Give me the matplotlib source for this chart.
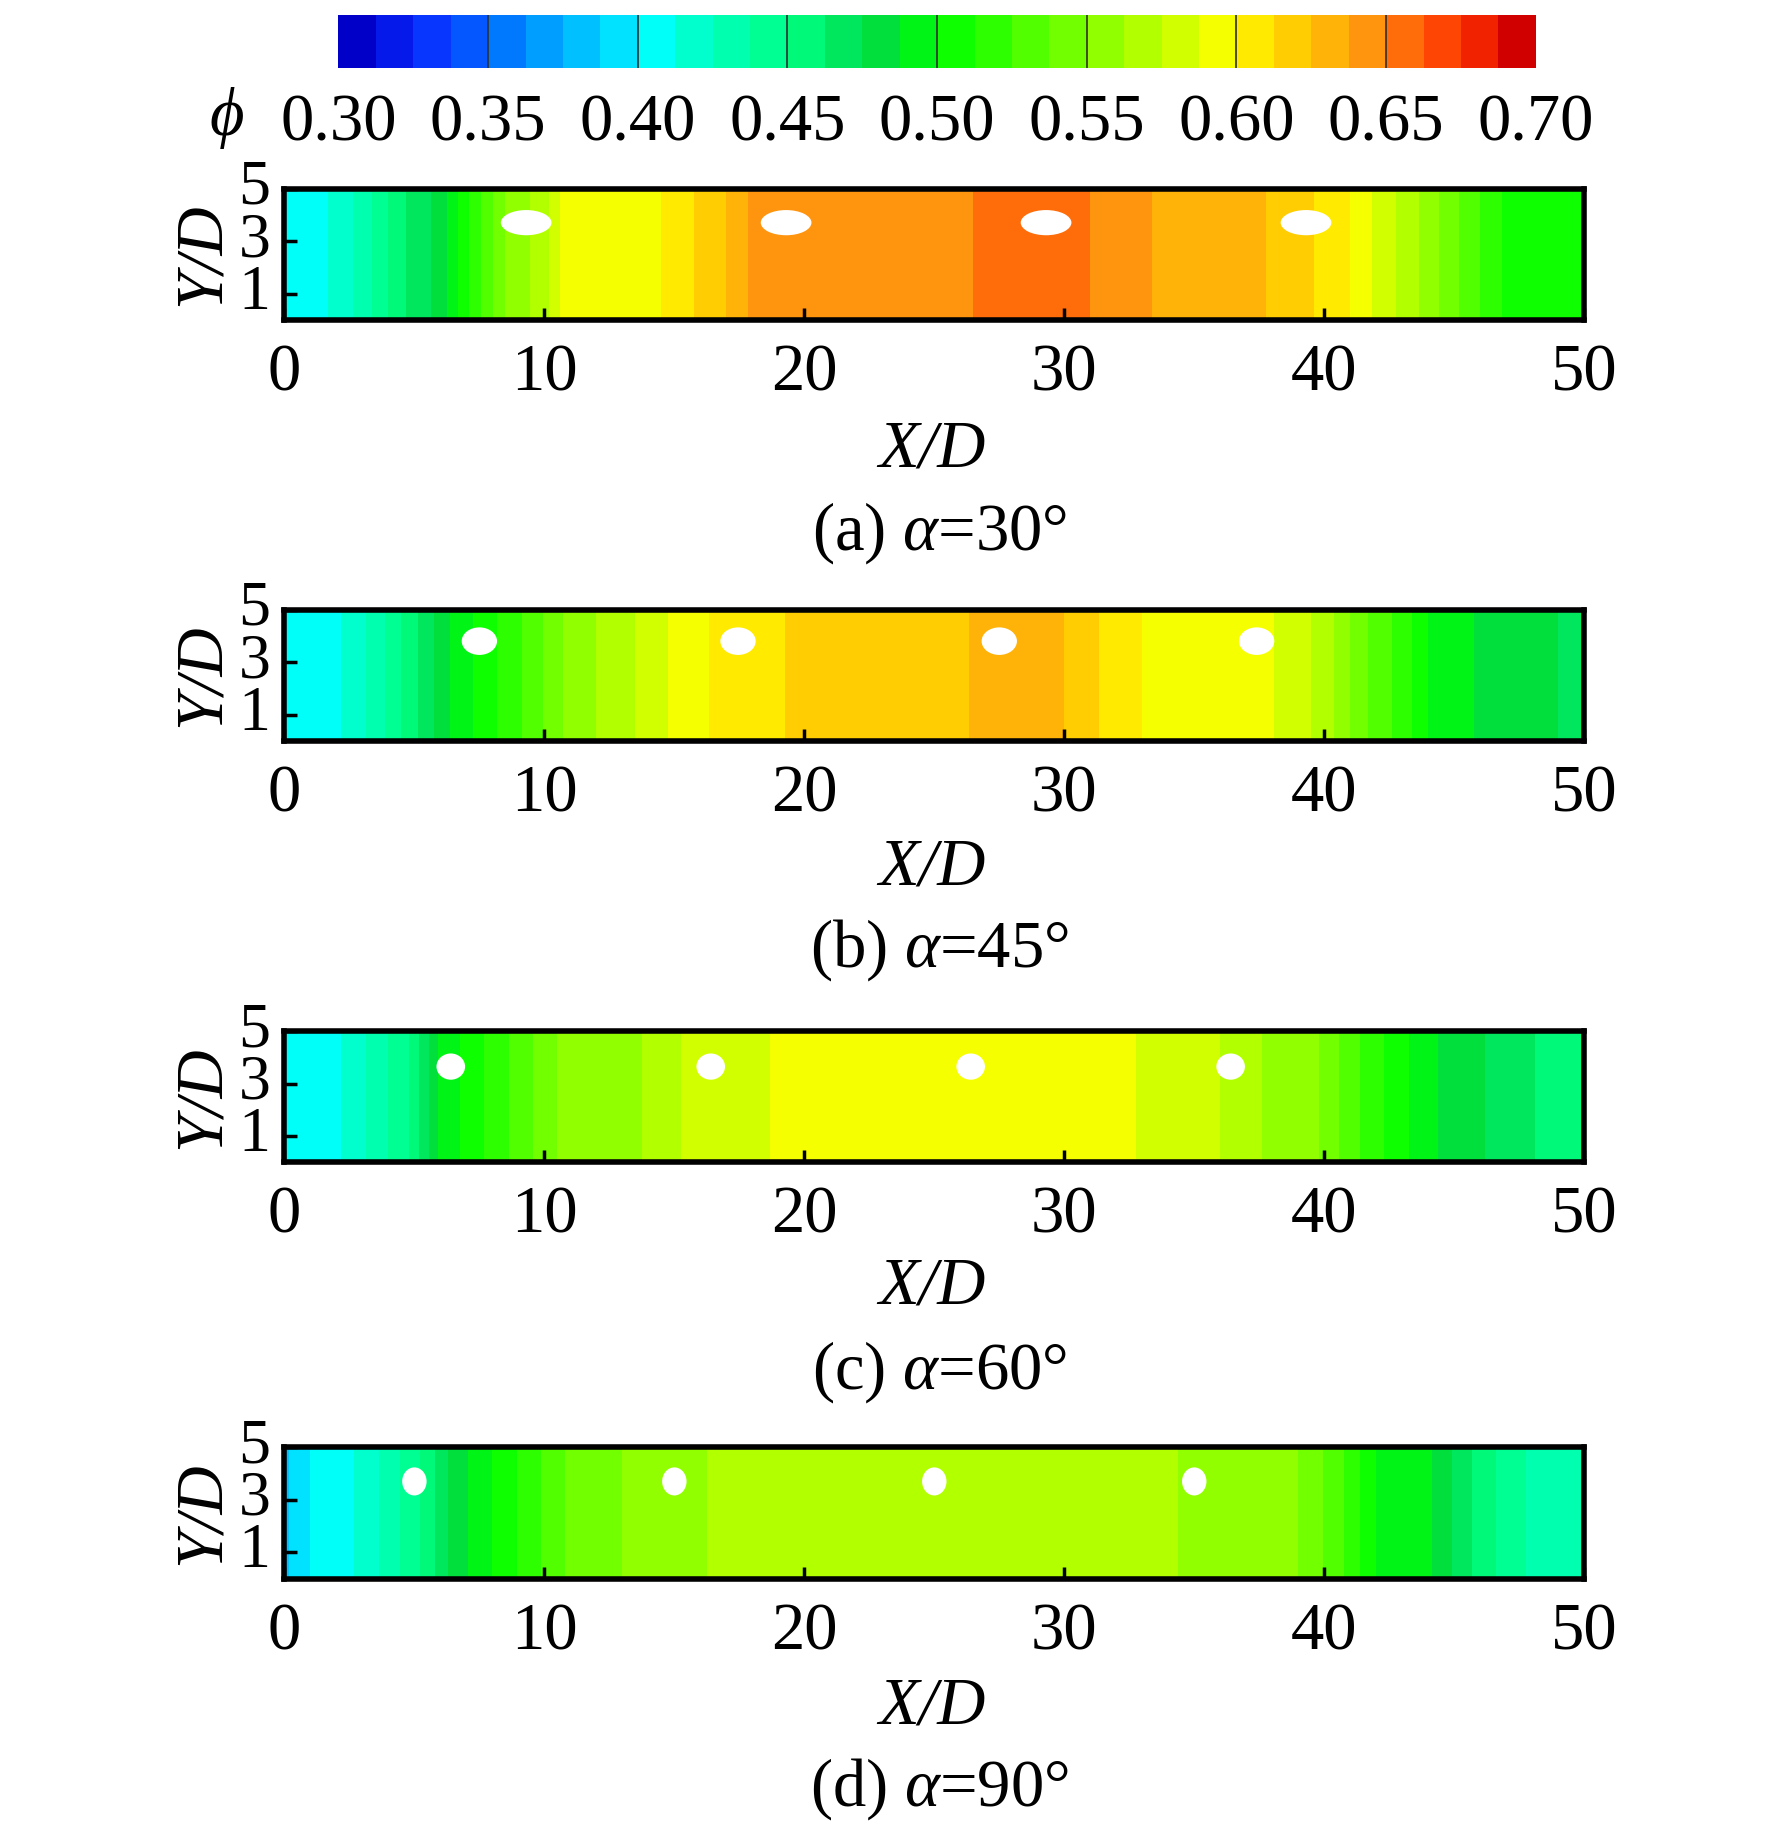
import numpy as np
import matplotlib
matplotlib.use("Agg")
import matplotlib.pyplot as plt
from matplotlib.colors import LinearSegmentedColormap, BoundaryNorm
from matplotlib.patches import Ellipse
import matplotlib.cm as cm

plt.rcParams['font.family'] = ['Liberation Serif', 'DejaVu Serif']
plt.rcParams['mathtext.fontset'] = 'custom'
plt.rcParams['mathtext.rm'] = 'Liberation Serif'
plt.rcParams['mathtext.it'] = 'Liberation Serif:italic'

# ---------------- data ----------------
captions = ["(a) $\\alpha$=30°", "(b) $\\alpha$=45°", "(c) $\\alpha$=60°", "(d) $\\alpha$=90°"]

x_a = [0, 1.5, 3, 4.5, 6, 7, 8.5, 10, 11, 14.5, 15.5, 17, 18, 22, 26, 27, 30.5, 31.5, 34, 37, 38.5, 40, 41, 42, 43.5, 45, 47, 50]
phi_a = [0.40, 0.41, 0.43, 0.46, 0.48, 0.51, 0.55, 0.57, 0.60, 0.60, 0.61, 0.625, 0.64, 0.645, 0.645, 0.655, 0.655, 0.645, 0.635, 0.63, 0.62, 0.61, 0.60, 0.585, 0.565, 0.54, 0.51, 0.50]

x_b = [0, 2, 3.5, 5, 6.5, 8, 9.5, 11, 13, 15, 17, 20, 25, 27, 29.5, 31, 33, 36, 38.5, 40, 41.5, 43, 44.5, 47, 50]
phi_b = [0.40, 0.41, 0.43, 0.46, 0.49, 0.51, 0.53, 0.555, 0.57, 0.59, 0.605, 0.615, 0.615, 0.63, 0.63, 0.615, 0.60, 0.60, 0.585, 0.57, 0.54, 0.52, 0.49, 0.485, 0.47]

x_c = [0, 2, 3.5, 4.8, 6, 7.5, 9, 10.5, 13, 14.5, 16, 18.5, 19.5, 31.5, 33, 35.5, 37, 39.5, 41, 42.5, 44, 45.5, 47.5, 50]
phi_c = [0.40, 0.41, 0.43, 0.45, 0.49, 0.51, 0.53, 0.55, 0.555, 0.57, 0.58, 0.585, 0.60, 0.60, 0.585, 0.58, 0.565, 0.555, 0.53, 0.51, 0.49, 0.48, 0.465, 0.455]

x_d = [0, 1, 2.5, 4, 5.5, 6.5, 8, 9.5, 11, 13, 15.5, 16.5, 34, 35.5, 39, 40.5, 42, 44, 45.5, 47, 48.5, 50]
phi_d = [0.385, 0.40, 0.41, 0.43, 0.455, 0.48, 0.50, 0.52, 0.54, 0.55, 0.555, 0.565, 0.565, 0.555, 0.55, 0.53, 0.50, 0.49, 0.465, 0.445, 0.43, 0.425]

holes_x = [[9.3, 19.3, 29.3, 39.3],
           [7.5, 17.45, 27.5, 37.4],
           [6.4, 16.4, 26.4, 36.4],
           [5.0, 15.0, 25.0, 35.0]]
holes_y = [3.7, 3.8, 3.65, 3.7]
hole_w = [1.95, 1.36, 1.1, 0.94]
hole_h = [0.96, 1.05, 1.0, 1.07]

cbar_ticks = [0.30, 0.35, 0.40, 0.45, 0.50, 0.55, 0.60, 0.65, 0.70]
xticks = [0, 10, 20, 30, 40, 50]
yticks = [1, 3, 5]

profiles = [(x_a, phi_a), (x_b, phi_b), (x_c, phi_c), (x_d, phi_d)]

# ---------------- style ----------------
cmap = LinearSegmentedColormap.from_list("tec", [
    (0.0, "#0000c8"), (0.05, "#0a28ff"), (0.125, "#0078ff"), (0.2, "#00c8ff"),
    (0.25, "#00ffff"), (0.3, "#00ffc0"), (0.375, "#00ff80"), (0.44, "#00d848"),
    (0.5, "#00ff00"), (0.625, "#80ff00"), (0.75, "#ffff00"), (0.8, "#ffd000"),
    (0.875, "#ff9010"), (0.95, "#ff3000"), (1.0, "#d00000")])
levels = np.linspace(0.30, 0.70, 33)
norm = BoundaryNorm(levels, cmap.N)

FS = 48
fig = plt.figure(figsize=(17.72, 18.43), dpi=100)

bottoms = [0.8265, 0.598, 0.3693, 0.1435]
xlab_y = [0.7557, 0.5293, 0.3017, 0.074]
cap_y = [0.711, 0.4847, 0.2557, 0.0293]
L, W, H = 0.1605, 0.7335, 0.0712

for i, (xs, ps) in enumerate(profiles):
    ax = fig.add_axes([L, bottoms[i], W, H])
    xs = np.asarray(xs)
    Y = np.array([0.0, 5.0])
    Z = np.tile(np.asarray(ps), (2, 1))
    ax.contourf(xs, Y, Z, levels=levels, cmap=cmap, norm=norm, extend='both')
    for hx in holes_x[i]:
        ax.add_patch(Ellipse((hx, holes_y[i]), hole_w[i], hole_h[i],
                             facecolor='white', edgecolor='none', zorder=3))
    ax.set_xlim(0, 50)
    ax.set_ylim(0, 5)
    ax.set_xticks(xticks)
    ax.set_yticks(yticks)
    ax.tick_params(direction='in', length=9, width=2.5, labelsize=FS)
    ax.tick_params(axis='x', pad=17)
    ax.tick_params(axis='y', pad=10, labelsize=46)
    for lab in ax.get_yticklabels():
        lab.set_verticalalignment('center')
    for sp in ax.spines.values():
        sp.set_linewidth(4)
    ax.set_ylabel("Y/D", fontsize=FS, fontstyle='italic', labelpad=4)
    fig.text(0.526, xlab_y[i], "X/D", fontsize=FS, fontstyle='italic',
             ha='center', va='center')
    fig.text(0.530, cap_y[i], captions[i], fontsize=FS, ha='center', va='center')

# colorbar
cax = fig.add_axes([0.191, 0.963, 0.6757, 0.0287])
sm = cm.ScalarMappable(norm=norm, cmap=cmap)
cb = fig.colorbar(sm, cax=cax, orientation='horizontal', ticks=cbar_ticks)
cb.outline.set_visible(False)
cb.ax.minorticks_off()
cb.ax.tick_params(which='both', length=0, labelsize=FS, pad=18)
cb.ax.set_xticklabels([f"{t:.2f}" for t in cbar_ticks])
cb.ax.vlines(cbar_ticks[1:-1], 0, 1, colors='#303030', linewidth=1.2,
             transform=cb.ax.get_xaxis_transform())
fig.text(0.128, 0.936, "ϕ", fontsize=FS, fontstyle='italic', ha='center', va='center')

fig.savefig("out.png", dpi=100, facecolor='white')
